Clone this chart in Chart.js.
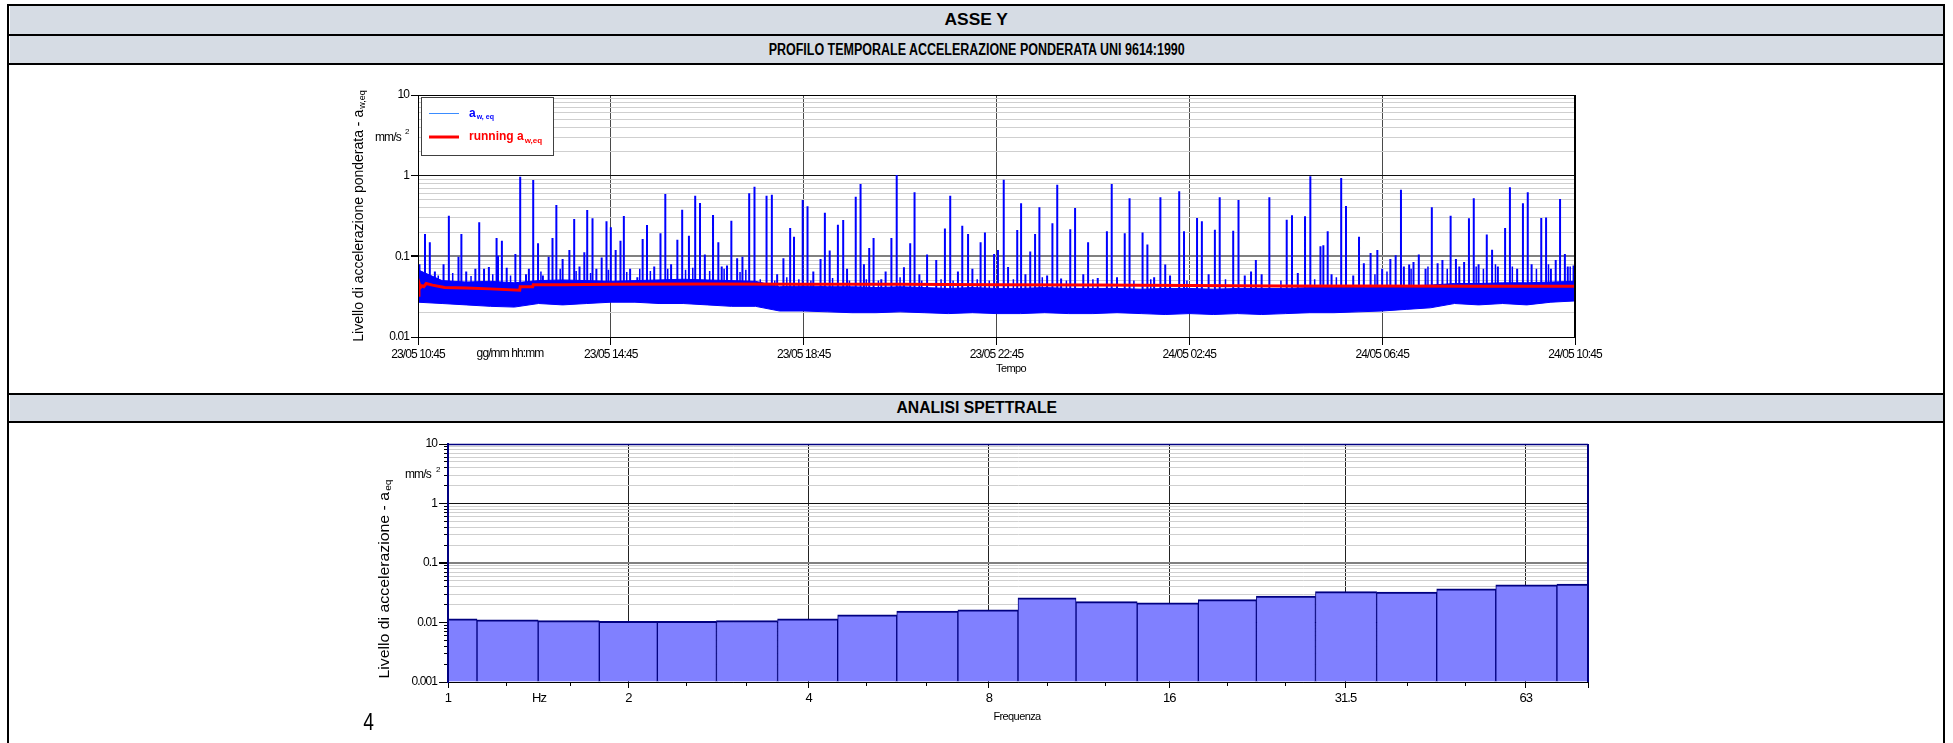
<!DOCTYPE html>
<html>
<head>
<meta charset="utf-8">
<script src="https://cdn.jsdelivr.net/npm/chart.js@4.4.1/dist/chart.umd.min.js"></script>
<style>
html,body{margin:0;padding:0;background:#fff;}
body{position:relative;width:1953px;height:743px;overflow:hidden;}
.hl{position:absolute;left:8px;width:1937px;height:2px;background:#000;}
.vl{position:absolute;top:4px;width:2px;height:739px;background:#000;}
.row{position:absolute;left:10px;width:1933px;background:#d6dce4;display:flex;align-items:center;justify-content:center;font-family:"Liberation Sans",Arial,sans-serif;font-weight:bold;font-size:16px;color:#000;}
.row span{display:inline-block;white-space:nowrap;transform-origin:50% 50%;}
#c1{position:absolute;left:300px;top:80px;}
#c2{position:absolute;left:330px;top:430px;}
#pg{position:absolute;left:362px;top:708px;font-family:"Liberation Sans",sans-serif;font-size:24px;color:#000;transform:scaleX(0.8);}
</style>
</head>
<body>
<div class="row" style="top:6px;height:28px"><span data-w="63">ASSE Y</span></div>
<div class="row" style="top:36px;height:27px"><span data-w="416">PROFILO TEMPORALE ACCELERAZIONE PONDERATA UNI 9614:1990</span></div>
<div class="row" style="top:395px;height:26px"><span data-w="161">ANALISI SPETTRALE</span></div>
<div class="hl" style="top:4px"></div>
<div class="hl" style="top:34px"></div>
<div class="hl" style="top:63px"></div>
<div class="hl" style="top:393px"></div>
<div class="hl" style="top:421px"></div>
<div class="vl" style="left:7px"></div>
<div class="vl" style="left:1943px"></div>
<canvas id="c1" width="1320" height="300"></canvas>
<canvas id="c2" width="1300" height="300"></canvas>
<div id="pg">4</div>
<script>
// fit header texts to the widths measured on the reference
document.querySelectorAll('.row span').forEach(s=>{ const t=+s.dataset.w; const w=s.offsetWidth; if(w>0) s.style.transform='scaleX('+(t/w).toFixed(3)+')'; });

// ---------------- DATA: time profile (hours since 23/05 10:45) ----------------
const timeTickHours  = [0, 4, 8, 12, 16, 20, 24];
const timeTickLabels = ['23/05 10:45','23/05 14:45','23/05 18:45','23/05 22:45','24/05 02:45','24/05 06:45','24/05 10:45'];
const levelDecades1  = [0.01, 0.1, 1, 10];
const levelLabels1   = ['0.01','0.1','1','10'];

// dense noise band of a_w,eq (envelope read every 30 min)
const bandHours  = [0,0.5,1,1.5,2,2.5,3,3.5,4,4.5,5,5.5,6,6.5,7,7.5,8,8.5,9,9.5,10,10.5,11,11.5,12,12.5,13,13.5,14,14.5,15,15.5,16,16.5,17,17.5,18,18.5,19,19.5,20,20.5,21,21.5,22,22.5,23,23.5,24];
const bandTop    = [0.068,0.050,0.048,0.049,0.047,0.050,0.051,0.050,0.049,0.050,0.051,0.052,0.051,0.050,0.049,0.042,0.043,0.042,0.042,0.041,0.042,0.041,0.040,0.041,0.040,0.040,0.041,0.040,0.040,0.040,0.039,0.040,0.040,0.039,0.040,0.040,0.040,0.041,0.041,0.041,0.042,0.043,0.044,0.046,0.046,0.047,0.047,0.048,0.049];
const bandBottom = [0.027,0.026,0.025,0.024,0.0235,0.026,0.025,0.026,0.027,0.027,0.026,0.026,0.025,0.024,0.024,0.021,0.021,0.0205,0.020,0.020,0.0205,0.020,0.0195,0.020,0.0195,0.0195,0.020,0.0195,0.0195,0.020,0.0195,0.019,0.0195,0.019,0.0195,0.019,0.0195,0.020,0.020,0.0205,0.021,0.022,0.023,0.026,0.025,0.026,0.025,0.027,0.028];

// individual peaks of a_w,eq
const spikeBase  = 0.03;
const spikeHours = [0.03,0.145,0.245,0.35,0.53,0.64,0.84,0.90,1.00,1.19,1.27,1.37,1.47,1.63,1.66,1.74,1.84,2.02,2.12,2.24,2.30,2.39,2.49,2.59,2.71,2.79,2.87,3.00,3.14,3.24,3.35,3.45,3.51,3.62,3.70,3.81,3.91,4.00,4.10,4.20,4.27,4.40,4.55,4.66,4.75,4.90,5.03,5.13,5.25,5.38,5.48,5.62,5.75,5.85,5.95,6.12,6.23,6.30,6.41,6.50,6.62,6.73,6.87,6.98,7.23,7.34,7.45,7.58,7.72,7.80,7.98,8.08,8.20,8.35,8.44,8.54,8.71,8.82,8.90,9.08,9.18,9.25,9.36,9.45,9.61,9.70,9.82,9.93,10.08,10.21,10.30,10.40,10.56,10.75,10.93,11.04,11.20,11.29,11.41,11.50,11.67,11.76,11.95,
  12.03,12.15,12.24,12.43,12.51,12.60,12.70,12.80,12.89,13.05,13.16,13.26,13.34,13.53,13.63,13.80,13.90,14.10,14.29,14.39,14.50,14.66,14.76,15.03,15.13,15.27,15.40,15.50,15.60,15.79,15.89,16.16,16.26,16.40,16.53,16.63,16.91,17.02,17.15,17.28,17.38,17.50,17.66,18.02,18.13,18.25,18.40,18.51,18.72,18.78,18.87,18.95,19.15,19.25,19.40,19.52,19.62,19.76,19.90,20.00,20.17,20.28,20.39,20.45,20.56,20.65,20.76,20.90,21.03,21.15,21.25,21.42,21.53,21.60,21.70,21.80,21.90,22.00,22.17,22.28,22.40,22.55,22.65,22.80,22.92,23.02,23.10,23.30,23.40,23.50,23.60,23.69,23.79,23.85,23.97];
const spikePeaks = [0.080,0.189,0.149,0.065,0.080,0.319,0.099,0.189,0.065,0.070,0.264,0.070,0.074,0.169,0.102,0.156,0.072,0.107,0.970,0.060,0.070,0.884,0.145,0.058,0.099,0.169,0.433,0.093,0.120,0.290,0.075,0.112,0.375,0.296,0.070,0.097,0.272,0.229,0.120,0.156,0.316,0.070,0.055,0.164,0.245,0.075,0.193,0.593,0.080,0.160,0.379,0.180,0.565,0.458,0.105,0.325,0.149,0.075,0.077,0.277,0.095,0.099,0.604,0.730,0.565,0.581,0.060,0.095,0.225,0.175,0.500,0.417,0.065,0.093,0.348,0.118,0.247,0.282,0.070,0.549,0.788,0.080,0.127,0.169,0.052,0.065,0.169,1.020,0.073,0.145,0.621,0.060,0.105,0.090,0.222,0.565,0.065,0.240,0.189,0.070,0.149,0.198,0.107,
  0.120,0.892,0.074,0.212,0.454,0.060,0.115,0.189,0.405,0.058,0.257,0.774,0.053,0.216,0.397,0.060,0.149,0.054,0.204,0.788,0.055,0.193,0.524,0.198,0.140,0.055,0.539,0.079,0.058,0.640,0.204,0.299,0.272,0.060,0.214,0.539,0.208,0.500,0.058,0.065,0.090,0.060,0.539,0.285,0.322,0.062,0.313,0.980,0.133,0.137,0.204,0.060,0.935,0.420,0.058,0.175,0.082,0.110,0.120,0.070,0.093,0.103,0.670,0.075,0.079,0.085,0.105,0.070,0.405,0.082,0.090,0.319,0.093,0.075,0.085,0.296,0.524,0.080,0.186,0.121,0.075,0.225,0.717,0.070,0.454,0.621,0.080,0.299,0.304,0.070,0.090,0.514,0.107,0.075,0.077];

// small hairs just above the dense band
const hairHours = [0.08,0.42,0.72,1.10,1.55,1.92,2.55,2.95,3.28,3.58,3.95,4.33,4.60,4.82,5.18,5.55,5.70,6.05,6.35,6.68,6.80,7.10,7.40,7.65,7.90,8.15,8.60,8.95,9.30,9.55,10.00,10.45,10.85,11.10,11.60,11.85,12.35,12.95,13.45,14.00,14.85,15.20,15.95,16.75,17.90,18.60,19.05,19.85,20.10,20.60,20.95,21.35,21.95,22.10,22.35,22.70,23.20,23.45,23.90];
const hairPeaks = [0.060,0.058,0.062,0.057,0.060,0.058,0.065,0.070,0.066,0.062,0.068,0.064,0.070,0.066,0.070,0.068,0.072,0.066,0.070,0.064,0.068,0.052,0.050,0.055,0.052,0.050,0.054,0.050,0.052,0.050,0.055,0.050,0.052,0.050,0.052,0.050,0.052,0.055,0.050,0.052,0.050,0.052,0.050,0.052,0.050,0.052,0.055,0.060,0.065,0.070,0.075,0.070,0.075,0.070,0.080,0.075,0.070,0.080,0.075];

// running a_w,eq
const runningHours  = [0,0.02,0.05,0.08,0.12,0.17,0.3,0.55,1.0,1.5,2.11,2.12,2.38,2.39,3,4,6,8,10,12,14,16,18,20,22,24];
const runningValues = [0.033,0.047,0.041,0.043,0.042,0.046,0.044,0.041,0.0405,0.0395,0.038,0.042,0.042,0.0445,0.0445,0.045,0.0455,0.0452,0.045,0.0445,0.044,0.0435,0.043,0.043,0.0425,0.0425];

// ---------------- DATA: spectrum ----------------
const bandCenters    = [1,1.25,1.6,2,2.5,3.15,4,5,6.3,8,10,12.5,16,20,25,31.5,40,50,63,80];
const spectrumValues = [0.0115,0.0111,0.0108,0.0105,0.0105,0.0108,0.0115,0.0135,0.0155,0.0163,0.0259,0.0225,0.0214,0.0243,0.0277,0.0331,0.0323,0.0367,0.0429,0.0441];
const freqMajorTicks  = [1,2,4,8,16,31.5,63,80];
const freqMajorLabels = ['1','2','4','8','16','31.5','63',''];
const freqMinorTicks  = [1.25,1.6,2.5,3.15,5,6.3,10,12.5,20,25,40,50];
const levelDecades2  = [0.001,0.01,0.1,1,10];
const levelLabels2   = ['0.001','0.01','0.1','1','10'];

// ---------------- helpers ----------------
const SANS = '"Liberation Sans",Arial,sans-serif';
const TIGHT = '-0.9px';
function logTicks(decs){ const t=[]; for(let d=0; d<decs.length; d++){ const b=decs[d]; if(d===decs.length-1){t.push({value:b}); break;} for(let m=1;m<=9;m++) t.push({value:+(b*m).toPrecision(6)}); } return t; }
function isDecade(v){ const l=Math.log10(v); return Math.abs(l-Math.round(l))<1e-6; }
function decadeLabel(v, decs, labs){ for(let i=0;i<decs.length;i++) if(Math.abs(v/decs[i]-1)<1e-6) return labs[i]; return ''; }
const tightText = { id:'tightText', beforeDraw(chart){ chart.ctx.letterSpacing = TIGHT; } };

function drawRotTitle(ctx, cx, cy, main, sub, size, target){
  ctx.save(); ctx.letterSpacing='0px'; ctx.translate(cx, cy); ctx.rotate(-Math.PI/2);
  ctx.fillStyle='#000'; ctx.textBaseline='middle'; ctx.textAlign='left';
  const ss = Math.round(size*0.62);
  ctx.font = size+'px '+SANS; const w1 = ctx.measureText(main).width;
  ctx.font = ss+'px '+SANS; const w2 = ctx.measureText(sub).width;
  const tot = w1+w2+1;
  const k = target ? target/tot : 1;
  ctx.scale(k,1);
  const x0 = -tot/2;
  ctx.font = size+'px '+SANS; ctx.fillText(main, x0, 0);
  ctx.font = ss+'px '+SANS; ctx.fillText(sub, x0+w1+1, 4);
  ctx.restore();
}
function drawText(ctx, txt, x, y, font, align, base, spacing){
  ctx.save(); ctx.letterSpacing = spacing||TIGHT; ctx.fillStyle='#000'; ctx.font=font; ctx.textAlign=align||'left'; ctx.textBaseline=base||'alphabetic'; ctx.fillText(txt,x,y); ctx.restore();
}
function vSegments(hours, peaks, base){ const out=[]; hours.forEach((h,i)=>{ out.push({x:h,y:base},{x:h,y:peaks[i]},{x:h,y:null}); }); return out; }

// ---------------- CHART 1 ----------------
const deco1 = {
  id:'deco1',
  afterDatasetsDraw(chart){
    const {ctx, chartArea:a} = chart;
    ctx.save(); ctx.strokeStyle='#000'; ctx.lineWidth=1;
    ctx.strokeRect(a.left+0.5, a.top+0.5, a.right-a.left-1, a.bottom-a.top);
    ctx.restore();
  },
  afterDraw(chart){
    const ctx = chart.ctx;
    drawRotTitle(ctx, 59, 136, 'Livello di accelerazione ponderata - a', 'w,eq', 14);
    drawText(ctx, 'mm/s', 75, 61, '12px '+SANS);
    drawText(ctx, '2', 105, 54, '8px '+SANS);
    drawText(ctx, 'gg/mm hh:mm', 210, 274, '12px '+SANS, 'center', 'middle');
    drawText(ctx, 'Tempo', 711, 289, '11px '+SANS, 'center', 'middle', '-0.6px');
    // legend box
    ctx.save(); ctx.letterSpacing='0px';
    ctx.fillStyle='#fff'; ctx.fillRect(121,17,133,59);
    ctx.strokeStyle='#404040'; ctx.lineWidth=1; ctx.strokeRect(121.5,17.5,132,58);
    ctx.strokeStyle='#3a8cff'; ctx.lineWidth=1; ctx.beginPath(); ctx.moveTo(129,33.5); ctx.lineTo(159,33.5); ctx.stroke();
    ctx.strokeStyle='#ff0000'; ctx.lineWidth=3; ctx.beginPath(); ctx.moveTo(129,57); ctx.lineTo(159,57); ctx.stroke();
    ctx.textAlign='left'; ctx.textBaseline='alphabetic';
    ctx.fillStyle='#0000ff'; ctx.font='bold 12px '+SANS; ctx.fillText('a',169,37);
    let w=ctx.measureText('a').width; ctx.font='bold 7px '+SANS; ctx.fillText('w, eq',169+w+1,39);
    ctx.fillStyle='#ff0000'; ctx.font='bold 12px '+SANS; ctx.fillText('running a',169,60);
    w=ctx.measureText('running a').width; ctx.font='bold 8px '+SANS; ctx.fillText('w,eq',169+w+1,63);
    ctx.restore();
  }
};

new Chart(document.getElementById('c1'), {
  type:'line',
  data:{ datasets:[
    { label:'bandTop', data: bandHours.map((h,i)=>({x:h,y:bandTop[i]})), borderColor:'#0000ff', backgroundColor:'#0000ff', borderWidth:1, pointRadius:0, fill:'+1', tension:0, order:4 },
    { label:'bandBottom', data: bandHours.map((h,i)=>({x:h,y:bandBottom[i]})), borderColor:'#0000ff', borderWidth:1, pointRadius:0, fill:false, tension:0, order:4 },
    { label:'hairs', data: vSegments(hairHours, hairPeaks, spikeBase), borderColor:'#0000ff', borderWidth:1.5, pointRadius:0, fill:false, spanGaps:false, borderCapStyle:'butt', order:3 },
    { label:'a_w,eq', data: vSegments(spikeHours, spikePeaks, spikeBase), borderColor:'#0000ff', borderWidth:2, pointRadius:0, fill:false, spanGaps:false, borderCapStyle:'butt', order:2 },
    { label:'running a_w,eq', data: runningHours.map((h,i)=>({x:h,y:runningValues[i]})), borderColor:'#ff0000', borderWidth:3, pointRadius:0, fill:false, tension:0, order:1 }
  ]},
  options:{
    responsive:false, animation:false, devicePixelRatio:1,
    layout:{ padding:{ top:15, right:45, left:0, bottom:0 } },
    plugins:{ legend:{display:false}, tooltip:{enabled:false} },
    scales:{
      x:{ type:'linear', min:0, max:24, offset:false,
        afterBuildTicks:s=>{ s.ticks = timeTickHours.map(v=>({value:v})); },
        afterFit:s=>{ s.height = 43; },
        ticks:{ autoSkip:false, maxRotation:0, minRotation:0, padding:2, color:'#000', font:{family:SANS,size:12}, callback:(v,i)=>timeTickLabels[i] },
        grid:{ offset:false, tickLength:8, tickColor:'#000', color:c=> (c.tick && (c.tick.value===0||c.tick.value===24)) ? '#000' : '#4a4a4a', lineWidth:1 },
        border:{ display:true, color:'#000', width:1 }
      },
      y:{ type:'logarithmic', min:0.01, max:10,
        afterBuildTicks:s=>{ s.ticks = logTicks(levelDecades1); },
        afterFit:s=>{ s.width = 118; },
        ticks:{ autoSkip:false, padding:2, color:'#000', font:{family:SANS,size:12}, callback:(v)=>decadeLabel(v, levelDecades1, levelLabels1) },
        grid:{ tickLength:7,
          tickColor:c=> (c.tick && isDecade(c.tick.value)) ? '#000' : 'rgba(0,0,0,0)',
          color:c=>{ const v=c.tick&&c.tick.value; if(!v) return '#ccc'; if(Math.abs(v-0.1)<1e-9) return '#808080'; if(isDecade(v)) return '#111'; return '#cfcfcf'; },
          lineWidth:c=>{ const v=c.tick&&c.tick.value; return (v && Math.abs(v-0.1)<1e-9) ? 2 : 1; } },
        border:{ display:true, color:'#000', width:1 }
      }
    }
  },
  plugins:[tightText, deco1]
});

// ---------------- CHART 2 ----------------
const deco2 = {
  id:'deco2',
  afterDatasetsDraw(chart){
    const {ctx, chartArea:a} = chart;
    ctx.save(); ctx.strokeStyle='#000080';
    ctx.lineWidth=1.5; ctx.beginPath(); ctx.moveTo(a.left, a.top+0.5); ctx.lineTo(a.right, a.top+0.5); ctx.stroke();
    ctx.lineWidth=2; ctx.beginPath(); ctx.moveTo(a.right, a.top); ctx.lineTo(a.right, a.bottom); ctx.stroke();
    ctx.beginPath(); ctx.moveTo(a.left, a.top); ctx.lineTo(a.left, a.bottom); ctx.stroke();
    ctx.restore();
  },
  afterDraw(chart){
    const ctx = chart.ctx;
    drawRotTitle(ctx, 55, 149, 'Livello di accelerazione - a', 'eq', 14, 199);
    drawText(ctx, 'mm/s', 75, 48, '12px '+SANS);
    drawText(ctx, '2', 106, 42, '8px '+SANS);
    drawText(ctx, 'Hz', 209, 268, '13px '+SANS, 'center', 'middle');
    drawText(ctx, 'Frequenza', 687, 287, '11px '+SANS, 'center', 'middle', '-0.6px');
  }
};

new Chart(document.getElementById('c2'), {
  type:'bar',
  data:{ datasets:[{
    label:'a_eq', data: bandCenters.map((f,i)=>({x:f,y:spectrumValues[i]})),
    backgroundColor:'#8080ff', borderColor:'#000080',
    borderWidth:{top:2,left:1,right:1,bottom:0}, borderSkipped:'start',
    barThickness:'flex', categoryPercentage:1, barPercentage:1, base:0.001, clip:0,
    xAxisID:'x', yAxisID:'y'
  }]},
  options:{
    responsive:false, animation:false, devicePixelRatio:1,
    layout:{ padding:{ top:14, right:42, left:0, bottom:0 } },
    plugins:{ legend:{display:false}, tooltip:{enabled:false} },
    scales:{
      x:{ type:'logarithmic', min:1, max:80, offset:false, position:'bottom', weight:0,
        afterBuildTicks:s=>{ s.ticks = freqMajorTicks.map(v=>({value:v})); },
        afterFit:s=>{ s.height = 48; },
        ticks:{ autoSkip:false, maxRotation:0, minRotation:0, padding:3, color:'#000', font:{family:SANS,size:13}, callback:(v,i)=>freqMajorLabels[i] },
        grid:{ offset:false, tickLength:6, tickColor:'#000', lineWidth:1,
          color:c=>{ const v=c.tick&&c.tick.value; return (v===1||v===80) ? 'rgba(0,0,0,0)' : '#222'; } },
        border:{ display:true, color:'#000', width:1 }
      },
      x2:{ type:'logarithmic', min:1, max:80, offset:false, position:'bottom', weight:-1,
        afterBuildTicks:s=>{ s.ticks = freqMinorTicks.map(v=>({value:v})); },
        afterFit:s=>{ s.height = 0; },
        ticks:{ display:false },
        grid:{ drawOnChartArea:false, tickLength:4, tickColor:'#000', offset:false },
        border:{ display:false }
      },
      y:{ type:'logarithmic', min:0.001, max:10, position:'left', weight:0,
        afterBuildTicks:s=>{ s.ticks = logTicks(levelDecades2); },
        afterFit:s=>{ s.width = 118; },
        ticks:{ autoSkip:false, padding:2, color:'#000', font:{family:SANS,size:12}, callback:(v)=>decadeLabel(v, levelDecades2, levelLabels2) },
        grid:{ tickLength:9,
          tickColor:c=> (c.tick && isDecade(c.tick.value)) ? '#000' : 'rgba(0,0,0,0)',
          color:c=>{ const v=c.tick&&c.tick.value; if(!v) return '#ccc'; if(Math.abs(v-0.1)<1e-9) return '#808080'; if(isDecade(v)) return '#111'; return '#cfcfcf'; },
          lineWidth:c=>{ const v=c.tick&&c.tick.value; return (v && Math.abs(v-0.1)<1e-9) ? 2 : 1; } },
        border:{ display:true, color:'#000080', width:2 }
      },
      y2:{ type:'logarithmic', min:0.001, max:10, position:'left', weight:-1,
        afterBuildTicks:s=>{ s.ticks = logTicks(levelDecades2); },
        afterFit:s=>{ s.width = 0; },
        ticks:{ display:false },
        grid:{ drawOnChartArea:false, tickLength:4, tickColor:'#000' },
        border:{ display:false }
      }
    }
  },
  plugins:[tightText, deco2]
});
</script>
</body>
</html>
